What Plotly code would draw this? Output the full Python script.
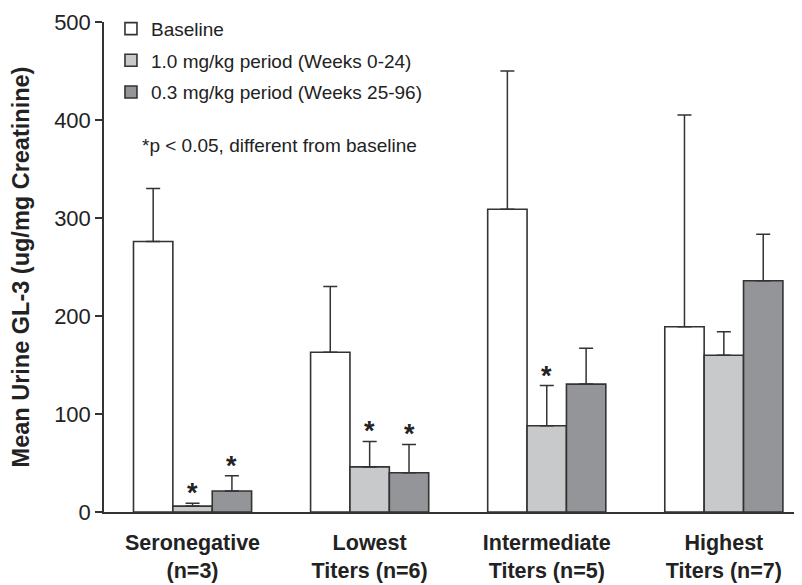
import plotly.graph_objects as go

groups = ["Seronegative<br>(n=3)", "Lowest<br>Titers (n=6)", "Intermediate<br>Titers (n=5)", "Highest<br>Titers (n=7)"]
series_names = ["Baseline", "1.0 mg/kg period (Weeks 0-24)", "0.3 mg/kg period (Weeks 25-96)"]
baseline = [276, 163, 309, 189]
dose_10 = [6, 46, 88, 160]
dose_03 = [21.5, 40, 130.5, 236]
err_baseline = [54, 67, 141, 216]
err_10 = [3, 26, 41, 24]
err_03 = [15.5, 29, 36.5, 47.5]
sig_10 = [True, True, True, False]
sig_03 = [True, True, False, False]
colors = ["#ffffff", "#c8c9cb", "#949599"]
y_ticks = [0, 100, 200, 300, 400, 500]

values = [baseline, dose_10, dose_03]
errors = [err_baseline, err_10, err_03]

fig = go.Figure()
for i, (name, vals, errs, col) in enumerate(zip(series_names, values, errors, colors)):
    fig.add_trace(go.Bar(
        x=groups, y=vals, name=name, legendgroup=str(i),
        marker=dict(color=col, line=dict(color="#333333", width=1.6)),
        error_y=dict(type="data", array=errs, arrayminus=[0] * len(errs),
                     symmetric=False, color="#333333", thickness=1.5, width=7),
    ))

bw = (1 - 0.333) / 3
annotations = []
for si, (vals, errs, sig) in enumerate([(dose_10, err_10, sig_10), (dose_03, err_03, sig_03)], start=1):
    for gi in range(len(groups)):
        if sig[gi]:
            annotations.append(dict(
                x=gi + (si - 1) * bw, y=vals[gi] + errs[gi], xref="x", yref="y",
                text="<b>*</b>", showarrow=False, yanchor="bottom", yshift=-7,
                font=dict(size=27, color="#222222", family="Liberation Sans, Arial"),
            ))

annotations.append(dict(
    x=0.052, y=0.748, xref="paper", yref="paper", xanchor="left", yanchor="middle",
    text="*p < 0.05, different from baseline", showarrow=False,
    font=dict(size=19, color="#222222", family="Liberation Sans, Arial"),
))

fig.update_layout(
    width=794, height=577,
    margin=dict(l=96, r=2, t=8, b=73),
    paper_bgcolor="white", plot_bgcolor="white",
    barmode="group", bargap=0.333, bargroupgap=0,
    font=dict(family="Liberation Sans, Arial", color="#222222"),
    showlegend=True,
    legend=dict(x=0.01, y=1.025, xanchor="left", yanchor="top",
                font=dict(size=19, color="#222222"), tracegroupgap=4,
                bgcolor="rgba(0,0,0,0)", traceorder="grouped"),
    annotations=annotations,
    xaxis=dict(range=[-0.5, 3.43], showline=True, linecolor="#333333", linewidth=1.5,
               ticks="", tickfont=dict(size=21.5, color="#222222", family="Liberation Sans, Arial"),
               ticklabelstandoff=10,
               tickprefix="<b>", ticksuffix="</b>", showgrid=False, zeroline=False, automargin=False),
    yaxis=dict(range=[0, 500], tickvals=y_ticks, showline=True, linecolor="#333333", linewidth=1.5,
               ticks="outside", ticklen=7, tickwidth=1.5, tickcolor="#333333",
               tickfont=dict(size=22, color="#222222"), showgrid=False, zeroline=False,
               automargin=False,
               title=dict(text="<b>Mean Urine GL-3 (ug/mg Creatinine)</b>",
                          font=dict(size=23.5, color="#222222"), standoff=18)),
)

fig.write_html("out.html")
